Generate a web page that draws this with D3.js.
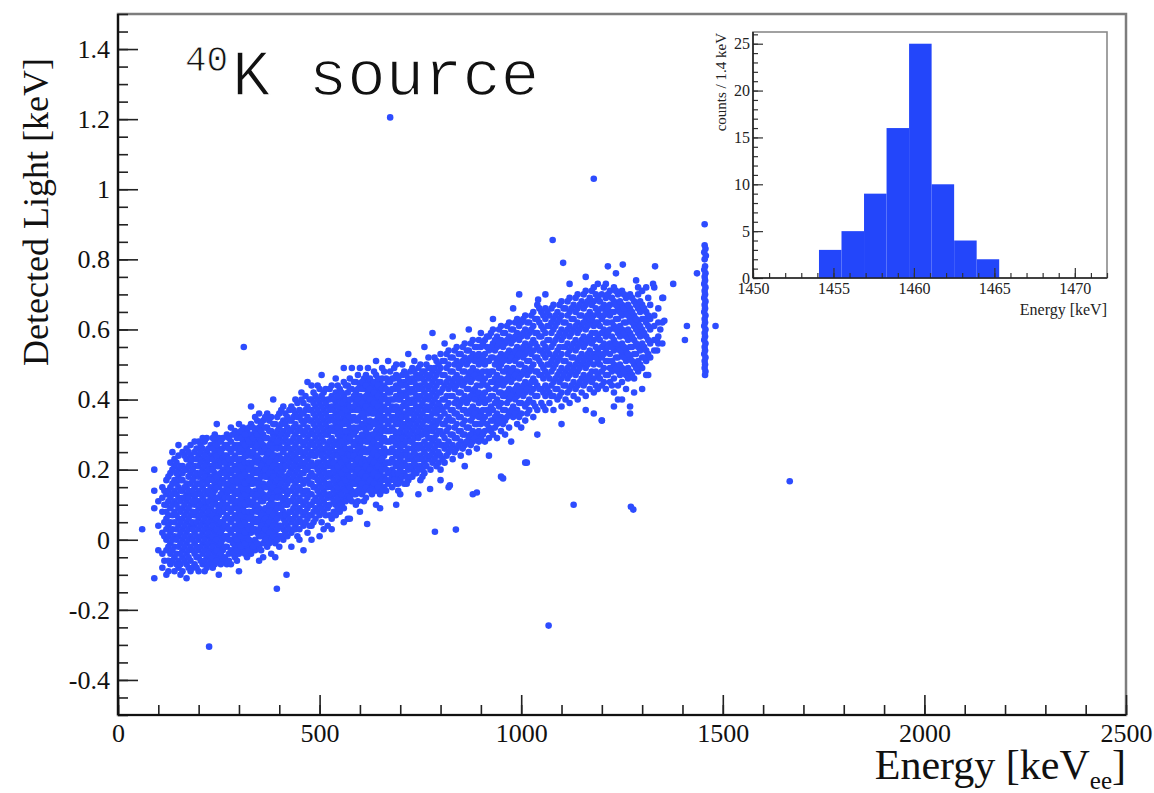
<!DOCTYPE html>
<html><head><meta charset="utf-8">
<script src="https://cdn.jsdelivr.net/npm/d3@7"></script>
<style>body{margin:0;background:#fff}</style>
</head><body><svg id="c" width="1154" height="793"></svg>
<script>
// ---------- DATA ----------
const xTicks = [0, 500, 1000, 1500, 2000, 2500];
const yTicks = [-0.4, -0.2, 0, 0.2, 0.4, 0.6, 0.8, 1, 1.2, 1.4];
// band of events: [energy keV, detected light values in 0.01 keV ...]
const bandColumns = [
[60,3],[90,20,14,9,-11],[100,11,4,-3],[110,15,8,2,-4,-8,12],
[120,17,13,10,6,3,0,-3,-10,8],[130,19,15,12,9,5,2,-1,-4,-7,22],
[140,21,17,14,11,8,5,1,-2,-5,-9,23],[150,24,18,15,12,9,6,4,1,-2,-6,-8,20],
[160,25,21,17,14,12,9,6,3,0,-3,-5,19,-9],[170,23,20,16,13,11,8,5,2,-1,-4,-7,26,15],
[180,27,22,19,16,13,10,7,4,1,-2,-6,-9,24],[190,25,21,18,15,12,10,7,4,2,-1,-4,-7,28,13],
[200,28,24,21,18,14,11,9,6,3,0,-3,-5,-9,16],[210,26,23,20,17,15,12,8,5,2,-1,-4,-7,29,10],
[220,29,25,22,19,16,13,10,7,4,1,-2,-5,-8,18],[230,27,24,21,18,15,12,9,6,3,0,-3,-6,20],
[240,28,25,22,19,16,14,11,8,5,2,-1,-4,-7,30],[250,26,23,21,18,15,12,9,7,4,1,-2,-5,17,29],
[260,29,26,23,20,17,14,11,8,5,3,0,-3,-6,24],[270,30,27,24,21,18,15,13,10,7,4,1,-2,-7,22],
[280,28,25,22,19,17,14,11,8,5,2,0,-3,-7,32],[290,31,27,24,21,18,16,13,10,7,4,1,-2,-5,20],
[300,30,27,25,22,19,16,13,11,8,5,2,-1,-4,33],[310,32,28,25,23,20,17,14,11,9,6,3,0,-3],
[320,29,26,24,21,18,15,12,10,7,4,1,-2,-5,31],[330,33,30,27,24,21,18,16,13,10,7,4,2,-1,-4],
[340,31,28,26,23,20,17,14,12,9,6,3,0,-3,35],[350,36,32,29,26,23,20,17,15,12,9,6,3,1,-2],
[360,34,30,27,25,22,19,16,13,11,8,5,2,-1,-5],[370,32,29,26,24,21,18,15,12,9,7,4,1,-2,36],
[380,35,31,28,25,23,20,17,14,11,9,6,3,0,-4],[390,33,30,27,24,22,19,16,13,10,8,5,2,-1,-5],
[400,36,32,29,27,24,21,18,15,13,10,7,4,1,-2],[410,34,31,28,25,22,20,17,14,11,8,6,3,0,38],
[420,35,32,30,27,24,21,18,16,13,10,7,4,1],[430,38,34,31,28,25,23,20,17,14,11,8,5,2,-2],
[440,36,33,30,27,24,22,19,16,13,10,7,4,3,40],[450,37,35,32,29,26,23,21,18,15,12,9,6,3,0],
[460,39,36,33,30,27,24,21,19,16,13,10,7,4,-3],[470,38,35,32,29,26,23,20,17,14,12,9,6,2],
[480,44,40,37,34,31,28,25,22,19,16,13,10,7,4],[490,41,38,35,32,29,26,24,21,18,15,12,9,6],
[500,43,39,36,33,30,27,25,22,19,16,13,10,7,1],[510,42,40,37,34,31,28,25,23,20,17,14,11,8,3],
[520,40,38,35,32,30,27,24,21,18,15,12,9,4],[530,44,41,38,35,32,29,26,23,21,18,15,12,6],
[540,42,39,36,33,31,28,25,22,19,16,13,10,7],[550,43,40,37,34,32,29,26,23,20,17,14,11,8],
[560,45,41,38,35,33,30,27,24,21,18,15,12,9],[570,44,42,39,36,33,30,28,25,22,19,16,13,6],
[580,49,43,40,37,34,31,28,25,23,20,17,14,11],[590,45,42,39,37,34,31,28,25,22,19,16,13,10],
[600,49,44,41,38,35,32,29,27,24,21,18,15,8],[610,46,43,40,37,35,32,29,26,23,20,17,14,11],
[620,49,45,42,39,36,33,30,28,25,22,19,16],[630,44,41,38,36,33,30,27,24,21,18,15,13],
[640,47,43,40,37,34,31,29,26,23,20,17,14,10],[650,45,42,39,36,33,30,27,25,22,19,16,13],
[660,48,44,41,38,35,32,29,26,24,21,18,15],[670,51,45,42,39,36,33,31,28,25,22,19,16],
[680,46,43,40,38,35,32,29,26,23,20,18,15],[690,47,44,41,38,35,33,30,27,24,21,18,16],
[700,45,42,40,37,34,31,28,26,23,20,17,13],[710,48,45,42,39,36,33,30,27,25,22,19,16],
[720,46,43,40,37,34,32,29,26,23,20,17],[730,49,46,43,40,37,34,31,28,26,23,20,18],
[740,47,44,41,38,36,33,30,27,24,21,19],[750,50,47,44,41,38,35,32,30,27,24,21,17],
[760,48,45,42,40,37,34,31,28,25,22,19],[770,52,49,46,43,40,37,34,31,29,26,23],
[780,59,48,45,42,39,36,33,31,28,25,22],[790,51,47,44,41,38,36,33,30,27,24,21],
[800,53,49,45,42,38,35,31,27,24,20],[810,51,47,44,40,36,33,29,26,22,56],
[820,54,50,46,43,39,35,32,28,25,15],[830,52,48,45,41,37,34,30,27,23],
[840,55,51,47,44,40,36,33,29,26],[850,53,50,46,42,39,35,31,28,24],
[860,56,52,48,45,41,37,34,30,27],[870,54,51,47,43,40,36,32,29,25],
[880,57,53,49,46,42,38,35,31,28,13],[890,55,52,48,44,41,37,33,30,26],
[900,59,55,51,47,44,40,36,33,29],[910,57,53,50,46,42,39,35,31,28],
[920,58,54,51,47,43,40,36,32,29],[930,60,56,52,48,45,41,37,34,30],
[940,58,55,51,47,44,40,36,33,29],[950,61,57,53,50,46,42,39,35,31,18],
[960,59,56,52,48,45,41,37,34,30],[970,62,58,54,51,47,43,40,36,32],
[980,60,57,53,49,46,42,38,35],[990,63,59,55,52,48,44,41,37,33],
[1000,62,58,54,50,47,43,39,36,32],[1010,64,60,56,53,49,45,42,38,34,22],
[1020,62,59,55,51,48,44,40,37],[1030,65,61,57,54,50,46,43,39,35],
[1040,67,63,59,55,52,48,44,41,37],[1050,65,61,58,54,50,47,43,39],
[1060,66,63,59,55,52,48,44,41,37],[1070,64,61,57,53,50,46,42,39],
[1080,67,63,60,56,52,49,45,41,37],[1090,65,62,58,54,51,47,43,40],
[1100,68,64,60,57,53,49,46,42,38],[1110,66,62,59,55,51,48,44,40],
[1120,69,65,61,58,54,50,47,43,39],[1130,67,63,60,56,52,49,45,41],
[1140,70,66,62,59,55,51,48,44,40],[1150,68,64,61,57,53,50,46,42],
[1160,71,67,63,60,56,52,49,45,41],[1170,69,65,62,58,54,51,47,43],
[1180,72,68,64,61,57,53,50,46,42],[1190,73,69,65,62,58,54,51,47,43],
[1200,70,66,63,59,55,52,48,44,34],[1210,73,69,65,62,58,54,51,47,43],
[1220,71,67,64,60,56,53,49,45],[1230,72,68,65,61,57,54,50,46,42],
[1240,70,66,63,59,55,52,48,44],[1250,71,67,64,60,56,53,49,45,40],
[1260,69,65,62,58,54,51,47,43],[1270,70,66,63,59,55,52,48,38,36],
[1280,68,64,61,57,53,50,46,42],[1290,70,66,62,59,55,51,48],
[1300,71,67,63,60,56,52,49],[1310,65,62,58,54,51,47],
[1320,67,63,60,56,52],[1330,72,64,61,57,54],[1340,66,62,58,56],[1350,69,62,56]
];
// more events of the same band, read between the columns above
const bandColumnsB = [
[115,14,10,5,1,-6],[125,18,14,11,7,4,1,-2,-6,-9],[135,20,16,13,10,7,3,0,-3,-6],
[145,22,19,16,13,10,7,3,0,-4,-7],[155,21,17,14,11,8,5,2,-1,-4,-7,-10],
[165,24,20,15,12,10,7,4,1,-2,-6],[175,25,21,18,14,12,9,6,3,0,-3,-5,-8],
[185,23,20,17,14,11,8,5,3,0,-3,-8],[195,26,23,19,16,13,11,8,5,1,-2,-5,-8],
[205,27,25,22,19,16,13,10,7,4,1,-2,-6],[215,28,24,21,18,14,11,9,6,3,0,-3,-6,-9],
[225,26,23,20,17,14,11,8,5,2,-1,-4,-7],[235,29,26,23,20,17,13,10,7,4,1,-2,-5,-8],
[245,27,24,21,18,15,12,10,6,3,0,-3,-6],[255,28,25,22,19,16,13,10,8,5,2,-1,-4,-7],
[265,27,24,22,19,16,12,9,6,4,1,-2,-5],[275,29,26,23,20,16,14,12,9,6,3,0,-4,-6],
[285,30,26,23,20,17,15,12,9,6,3,-1,-4],[295,29,26,23,20,17,14,11,9,6,3,0,-3,-6],
[305,31,29,26,23,21,18,15,12,10,7,4,1,-2],[315,30,27,24,22,19,16,13,10,8,5,2,-1,-4],
[325,32,28,25,22,20,17,14,11,8,6,3,0,-3],[335,32,29,25,22,19,16,13,11,8,5,3,-2],
[345,34,30,27,24,22,19,16,13,10,8,5,2,-1],[355,33,31,28,25,21,18,15,14,11,7,4,1,-3],
[365,35,32,29,26,23,20,18,15,12,9,6,3,0],[375,34,31,27,25,22,19,16,13,10,8,5,2,-1],
[385,33,30,29,26,24,21,18,15,12,10,7,4,1],[395,35,31,28,26,23,20,17,14,12,9,6,3,0],
[405,37,33,30,26,23,21,19,16,12,9,7,4,1],[415,36,33,29,26,23,21,18,15,12,10,7,5,2],
[425,37,34,31,28,26,22,19,17,14,11,8,6,3],[435,37,35,32,29,26,24,21,18,15,12,9,6,3],
[445,39,35,31,28,25,23,20,17,14,11,8,5,1],[455,40,36,34,31,28,25,22,19,17,14,11,8,5],
[465,41,37,34,31,28,25,22,20,17,14,11,8,5],[475,40,37,34,30,27,24,21,18,16,13,10,7,4],
[485,42,39,36,33,30,27,24,21,18,15,11,8,5],[495,44,40,37,34,31,28,25,22,20,17,14,11,8],
[505,41,38,35,32,29,26,24,21,18,15,12,9,5],[515,43,39,36,33,30,26,22,19,16,13,10,7],
[525,43,40,37,34,31,28,25,22,19,16,13,10,7],[535,40,37,34,31,27,24,22,20,17,14,11,8],
[545,44,41,38,35,32,30,27,24,21,18,15,12,9],[555,42,39,36,33,31,28,25,22,19,16,13,10],
[565,44,40,37,34,31,29,26,23,20,17,14,11],[575,46,43,40,38,35,32,29,26,24,21,18,15,12],
[585,45,41,38,35,32,30,27,24,21,18,16,13],[595,47,43,40,37,34,32,29,26,23,20,17,14,11],
[605,45,43,39,36,33,30,28,25,22,19,16,13],[615,47,44,41,38,34,31,28,25,22,21,18,15,12],
[625,46,43,40,37,34,32,29,26,23,20,17,14],[635,48,45,42,39,36,33,30,28,25,22,19,16],
[645,46,44,41,38,35,32,29,27,24,21,18,15],[655,49,46,43,40,37,34,31,28,25,23,20,17,14],
[665,46,43,40,37,34,31,28,25,22,20,17,14],[675,48,45,42,40,37,34,31,28,25,22,19,17],
[685,49,46,43,40,37,34,31,28,25,22,19,17],[695,46,43,40,36,33,30,29,25,22,19,16,14],
[705,50,47,44,41,38,35,32,29,27,24,21,18],[715,47,44,41,38,35,31,28,25,24,21,18],
[725,48,45,42,39,36,33,30,28,24,21,18],[735,51,48,45,42,39,35,32,29,27,25,22,19],
[745,49,46,43,40,37,34,31,29,26,23,20],[755,48,46,43,39,36,33,30,26,23,20,18],
[765,50,47,44,41,38,35,32,30,27,24,21],[775,49,47,44,41,38,35,32,29,27,24,20],
[785,52,49,46,43,40,37,34,32,29,26,23],[795,50,48,45,42,39,37,34,31,28,25,22],
[805,51,47,43,40,37,33,30,27,23],[815,53,49,45,41,38,34,31,27,24],
[825,52,48,44,41,37,34,30,26],[835,54,50,46,43,39,36,32,29,25],
[845,53,49,45,42,38,35,31,27],[855,55,51,48,44,40,37,33,30,26],
[865,54,50,46,43,39,36,32,28],[875,56,52,48,45,41,37,34,30,27],
[885,55,51,47,43,40,36,33,29],[895,57,53,50,46,42,39,35,31,28],
[905,56,52,48,45,41,37,34,30],[915,58,55,51,48,44,40,37,33],
[925,59,55,52,48,45,41,38,34,31],[935,57,54,50,46,43,39,35,32],
[945,60,56,52,49,45,42,38,34],[955,59,55,51,48,44,41,37,33],
[965,61,57,53,49,46,42,39,35],[975,60,56,52,48,45,41,37],
[985,62,58,54,51,47,43,40,36],[995,61,57,53,50,46,42,39,35],
[1005,63,59,55,52,48,44,41],[1015,62,58,54,51,47,43,39,36],
[1025,64,60,56,53,49,45,42],[1035,63,59,56,52,48,45,41,38],
[1045,66,62,58,54,51,47,43],[1055,64,60,56,53,49,46,42,38],
[1065,65,61,57,54,50,47,43],[1075,66,62,59,55,51,48,44,41],
[1085,64,61,57,53,50,46,43],[1095,67,63,59,55,52,48,45,41],
[1105,66,62,58,55,51,47,44],[1115,68,64,60,56,53,49,46,42],
[1125,66,63,59,55,52,48,44],[1135,69,65,61,57,54,50,47,43],
[1145,67,64,60,56,52,49,45],[1155,70,66,62,58,55,51,47,44],
[1165,68,64,61,57,53,50,46],[1175,71,67,63,59,56,52,48,45],
[1185,70,66,62,59,55,52,48,44],[1195,68,64,61,57,53,50,46],
[1205,72,67,64,60,56,53,49,45],[1215,70,66,62,59,55,51,47],
[1225,69,65,62,58,55,51,48,44],[1235,71,67,63,60,56,52,49],
[1245,68,65,61,58,54,50,47],[1255,70,66,62,59,55,52,48],
[1265,67,64,60,57,53,49,46],[1275,69,65,62,58,55,51,47],
[1285,67,63,60,56,53,49],[1295,68,65,61,58,54,50],
[1305,66,63,59,55,52],[1315,69,64,61,57,53]
];
// scattered events along the band edges: [energy keV, light keV]
const edgeEvents = [
[455,0.42],[470,0.45],[505,0.47],[540,0.46],[560,0.49],[640,0.51],[690,0.50],[720,0.53],
[760,0.55],[830,0.58],[870,0.60],[930,0.63],[980,0.66],[1060,0.70],[1120,0.73],[1160,0.75],
[1235,0.76],[1285,0.74],[245,0.33],[330,0.38],[385,0.40],[150,0.27],[135,0.25],
[480,0.0],[530,0.03],[560,0.05],[650,0.09],[690,0.10],[745,0.13],[800,0.17],[860,0.21],
[920,0.24],[975,0.28],[1040,0.30],[1100,0.33],[1160,0.37],[1240,0.40],[1300,0.43],
[1230,0.38],[1180,0.36],[350,-0.06],[300,-0.09],[250,-0.10],[170,-0.11]
];
// 1460 keV 40K line: [energy keV, light in 0.01 keV]
const peakColumn = [
[1455,90],[1455,84],[1457,83],[1454,82],[1458,81],[1455,80],[1456,78],[1454,77],[1457,76],
[1455,75],[1456,74],[1454,73],[1457,72],[1455,71],[1456,70],[1454,69],[1457,68],[1455,67],
[1456,66],[1454,65],[1457,64],[1455,63],[1456,62],[1454,61],[1457,60],[1455,59],[1456,58],
[1454,57],[1457,56],[1455,55],[1456,54],[1454,53],[1457,52],[1455,51],[1456,50],[1455,49],
[1457,48],[1456,47],[1436,76],[1482,61],[1411,61],[1406,57]
];
// isolated events: [energy keV, light keV]
const outliers = [
[675,1.205],[1180,1.03],[1078,0.855],[1104,0.79],[312,0.55],[1666,0.167],[1068,-0.245],
[226,-0.305],[394,-0.14],[418,-0.10],[786,0.023],[838,0.029],[1130,0.10],[1272,0.094],
[1278,0.086],[995,0.70],[1042,0.685],[1215,0.78],[1252,0.785],[1332,0.78],[1377,0.73],
[1352,0.69],[1327,0.73],[1355,0.625],[716,0.16],[774,0.145],[823,0.155],[890,0.135],
[955,0.175],[1014,0.22],[575,0.06],[618,0.045],[1337,0.57],[1337,0.54],[1315,0.47],
[1200,0.34],[1290,0.72],[1310,0.72],[1345,0.60]
];
// inset histogram
const histEdges = [1454.1, 1455.5, 1456.9, 1458.3, 1459.7, 1461.1, 1462.5, 1463.9, 1465.3];
const histCounts = [3, 5, 9, 16, 25, 10, 4, 2];
const insetXTicks = [1450, 1455, 1460, 1465, 1470];
const insetYTicks = [0, 5, 10, 15, 20, 25];

// ---------- DRAW ----------
const svg = d3.select("#c");
svg.append("rect").attr("width",1154).attr("height",793).attr("fill","#fff");
const M = {l:118, r:1126, t:14, b:715};
const x = d3.scaleLinear().domain([0,2500]).range([M.l,M.r]);
const y = d3.scaleLinear().domain([-0.5,1.5]).range([M.b,M.t]);
const serif = "'Liberation Serif','DejaVu Serif',serif";
const blue = "#2d4cff";

const pts = [];
bandColumns.concat(bandColumnsB).forEach(c => { for (let i=1;i<c.length;i++) pts.push([c[0], c[i]/100]); });
edgeEvents.forEach(p => pts.push(p));
peakColumn.forEach(p => pts.push([p[0], p[1]/100]));
outliers.forEach(p => pts.push(p));

svg.append("clipPath").attr("id","clip").append("rect")
  .attr("x",M.l).attr("y",M.t).attr("width",M.r-M.l).attr("height",M.b-M.t);
svg.append("g").attr("clip-path","url(#clip)").selectAll("circle").data(pts).join("circle")
  .attr("cx",d=>x(d[0])).attr("cy",d=>y(d[1])).attr("r",3.3).attr("fill",blue);

svg.append("rect").attr("x",M.l).attr("y",M.t).attr("width",M.r-M.l).attr("height",M.b-M.t)
  .attr("fill","none").attr("stroke","#7d7d7d").attr("stroke-width",2.5);

function styleAxis(g, fs){
  g.select(".domain").remove();
  g.selectAll(".tick line").attr("stroke","#222").attr("stroke-width",1.6);
  g.selectAll(".tick text").attr("font-family",serif).attr("font-size",fs).attr("fill","#111");
}
const minorX = d3.range(0,2501,100), minorY = d3.range(-0.5,1.5001,0.05);
svg.append("g").attr("transform",`translate(0,${M.b})`)
  .call(d3.axisBottom(x).tickValues(minorX).tickSize(-10).tickFormat(""))
  .call(g=>styleAxis(g,26));
svg.append("g").attr("transform",`translate(0,${M.b})`)
  .call(d3.axisBottom(x).tickValues(xTicks).tickSize(-20).tickPadding(9).tickFormat(d=>String(d)))
  .call(g=>styleAxis(g,26));
svg.append("g").attr("transform",`translate(${M.l},0)`)
  .call(d3.axisLeft(y).tickValues(minorY).tickSize(-10).tickFormat(""))
  .call(g=>styleAxis(g,26));
svg.append("g").attr("transform",`translate(${M.l},0)`)
  .call(d3.axisLeft(y).tickValues(yTicks).tickSize(-20).tickPadding(8).tickFormat(d=>String(d)))
  .call(g=>styleAxis(g,26));
svg.append("line").attr("x1",M.l).attr("x2",M.l).attr("y1",M.t).attr("y2",M.b).attr("stroke","#111").attr("stroke-width",2.2);
svg.append("line").attr("x1",M.l).attr("x2",M.r).attr("y1",M.b).attr("y2",M.b).attr("stroke","#111").attr("stroke-width",2.2);

// axis titles
svg.append("text").attr("transform","translate(48,58) rotate(-90)").attr("text-anchor","end")
  .attr("font-family",serif).attr("font-size",36).attr("fill","#111").text("Detected Light [keV]");
const xt = svg.append("text").attr("x",M.r).attr("y",779).attr("text-anchor","end")
  .attr("font-family",serif).attr("font-size",42).attr("fill","#111");
xt.append("tspan").text("Energy [keV");
xt.append("tspan").attr("dy",10).attr("font-size",25).text("ee");
xt.append("tspan").attr("dy",-10).text("]");

// title
const mono = "'Liberation Mono','DejaVu Sans Mono',monospace";
svg.append("text").attr("x",185).attr("y",71).attr("font-family",mono).attr("font-size",36)
  .attr("fill","#111").attr("stroke","#fff").attr("stroke-width",0.8).text("40");
svg.append("text").attr("x",232).attr("y",95).attr("font-family",mono).attr("font-size",64)
  .attr("fill","#111").attr("stroke","#fff").attr("stroke-width",1.4).text("K source");

// ---------- INSET ----------
const I = {l:753, r:1107, t:32, b:278};
const ix = d3.scaleLinear().domain([1450,1472]).range([I.l,I.r]);
const iy = d3.scaleLinear().domain([0,26.25]).range([I.b,I.t]);
svg.append("rect").attr("x",I.l).attr("y",I.t).attr("width",I.r-I.l).attr("height",I.b-I.t)
  .attr("fill","#fff").attr("stroke","#8a8a8a").attr("stroke-width",1.6);
svg.append("g").selectAll("rect").data(histCounts).join("rect")
  .attr("x",(d,i)=>ix(histEdges[i])).attr("width",(d,i)=>ix(histEdges[i+1])-ix(histEdges[i]))
  .attr("y",d=>iy(d)).attr("height",d=>iy(0)-iy(d)).attr("fill","#2346fa");
const iMinX = d3.range(1450,1472.01,1), iMinY = d3.range(0,26.01,1);
function styleI(g){
  g.select(".domain").remove();
  g.selectAll(".tick line").attr("stroke","#333").attr("stroke-width",1.2);
  g.selectAll(".tick text").attr("font-family",serif).attr("font-size",16).attr("fill","#222");
}
svg.append("g").attr("transform",`translate(0,${I.b})`)
  .call(d3.axisBottom(ix).tickValues(iMinX).tickSize(-5).tickFormat("")).call(styleI);
svg.append("g").attr("transform",`translate(0,${I.b})`)
  .call(d3.axisBottom(ix).tickValues(insetXTicks).tickSize(-10).tickPadding(5).tickFormat(d=>String(d))).call(styleI);
svg.append("g").attr("transform",`translate(${I.l},0)`)
  .call(d3.axisLeft(iy).tickValues(iMinY).tickSize(-5).tickFormat("")).call(styleI);
svg.append("g").attr("transform",`translate(${I.l},0)`)
  .call(d3.axisLeft(iy).tickValues(insetYTicks).tickSize(-10).tickPadding(3).tickFormat(d=>String(d))).call(styleI);
svg.append("line").attr("x1",I.l).attr("x2",I.l).attr("y1",I.t).attr("y2",I.b).attr("stroke","#222").attr("stroke-width",1.6);
svg.append("line").attr("x1",I.l).attr("x2",I.r).attr("y1",I.b).attr("y2",I.b).attr("stroke","#222").attr("stroke-width",1.6);
svg.append("text").attr("x",I.r).attr("y",315).attr("text-anchor","end")
  .attr("font-family",serif).attr("font-size",16).attr("fill","#222").text("Energy [keV]");
svg.append("text").attr("transform",`translate(726,${I.t+1}) rotate(-90)`).attr("text-anchor","end")
  .attr("font-family",serif).attr("font-size",15).attr("fill","#222").text("counts / 1.4 keV");
</script></body></html>
